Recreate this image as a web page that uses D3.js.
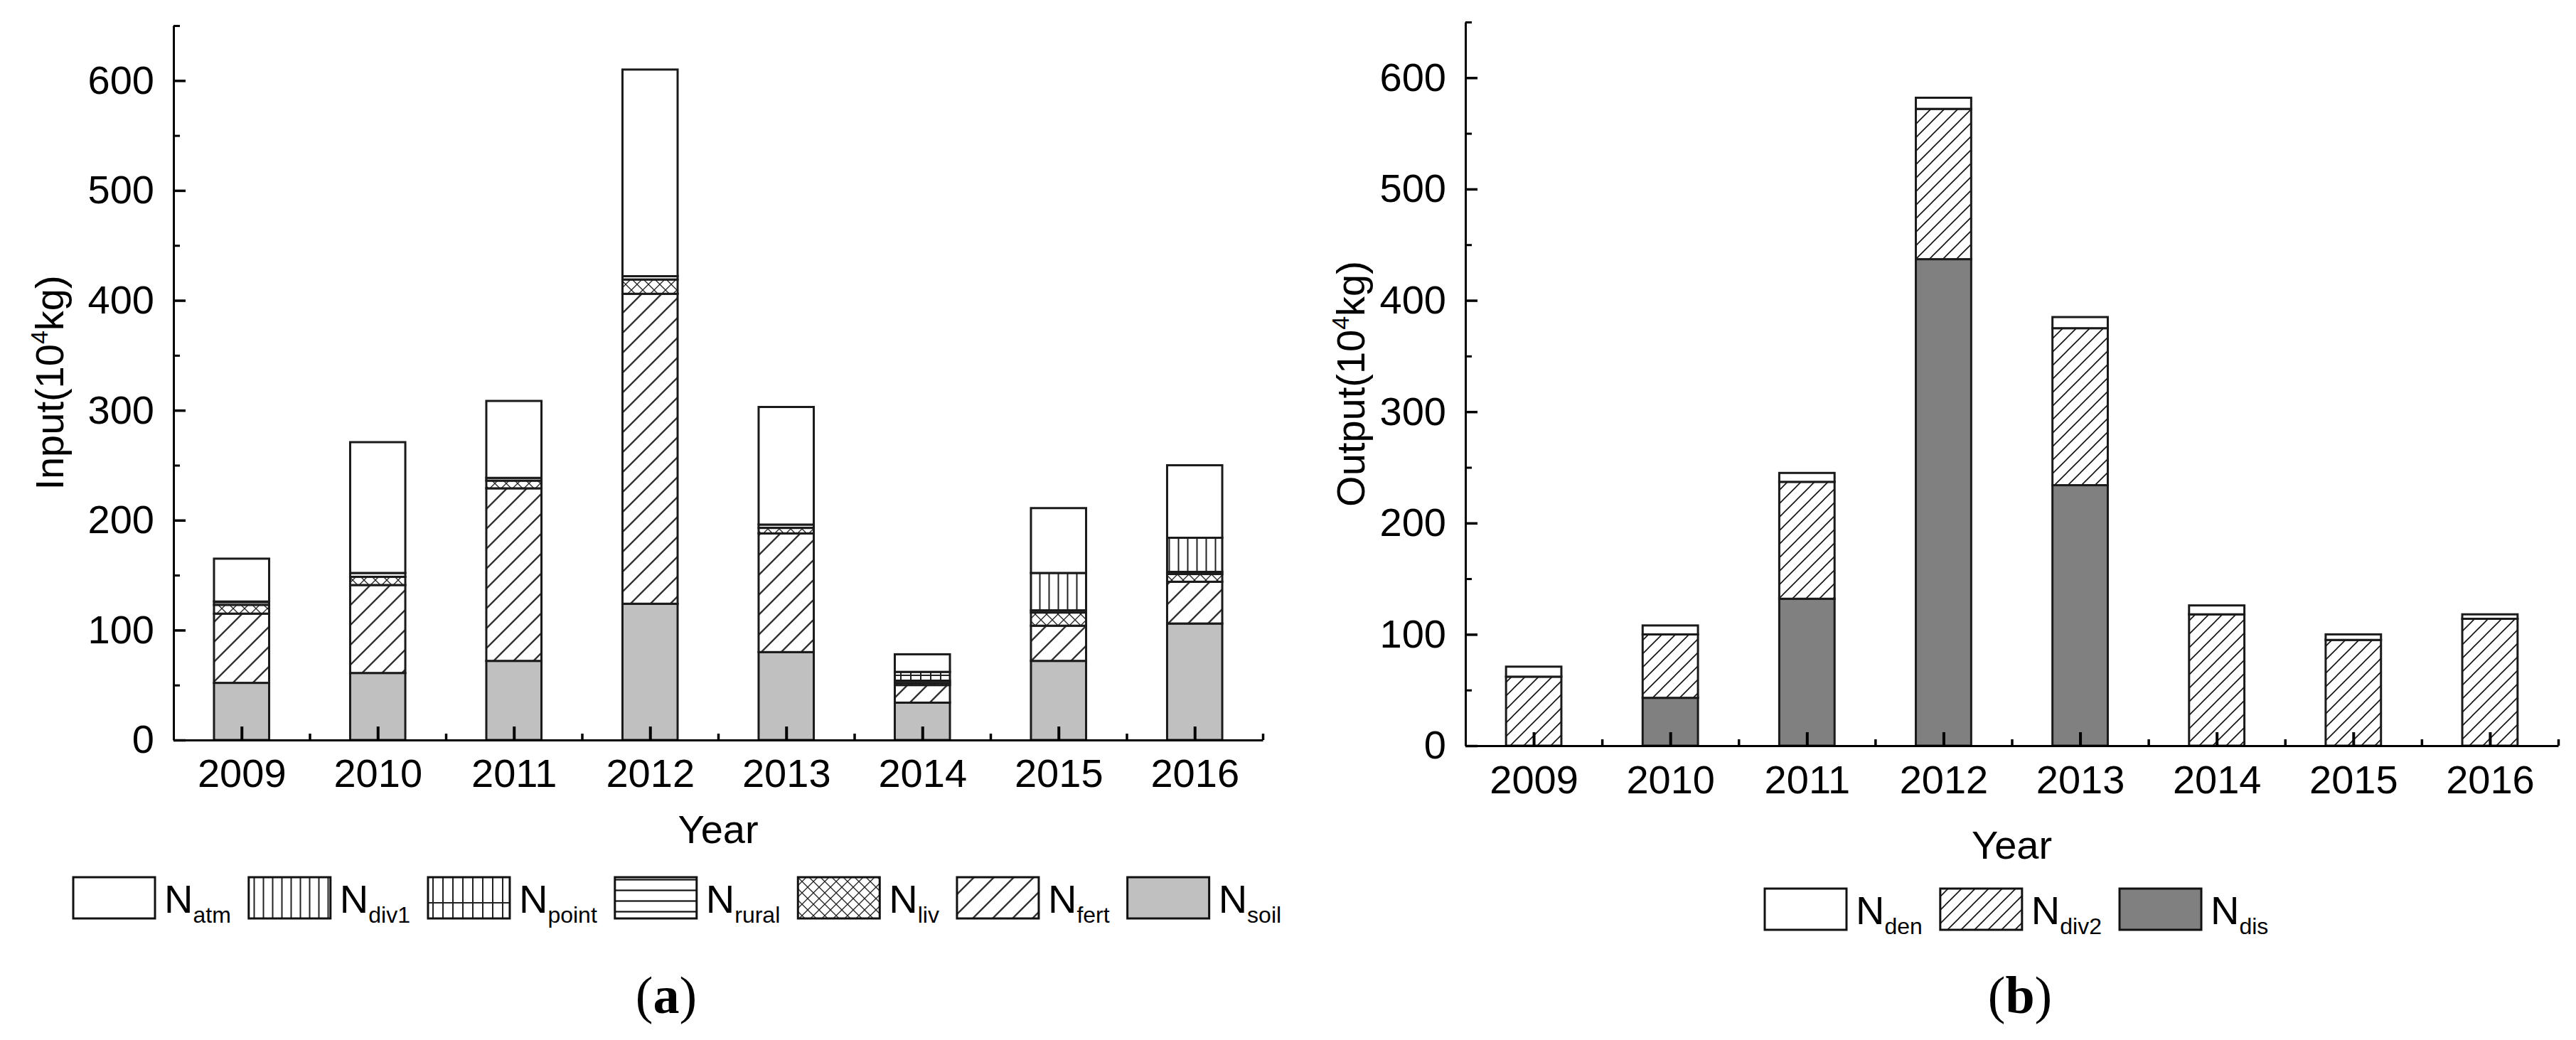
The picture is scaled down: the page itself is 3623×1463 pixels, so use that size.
<!DOCTYPE html>
<html><head><meta charset="utf-8">
<script src="https://cdn.jsdelivr.net/npm/d3@7"></script>
<style>body{margin:0;background:#fff}</style>
</head><body>
<svg id="c" width="3623" height="1463" xmlns="http://www.w3.org/2000/svg"></svg>
<script>
// ---------- data ----------
const years = [2009, 2010, 2011, 2012, 2013, 2014, 2015, 2016];
// Input (10^4 kg)
const N_atm   = [39, 119, 70, 188, 107, 16, 59, 66];
const N_div1  = [0, 0, 0, 0, 0, 0, 34, 31];
const N_point = [0, 0, 0, 0, 0, 8, 0, 0];
const N_rural = [3, 3.5, 2.5, 3, 3, 2, 2, 2];
const N_liv   = [8, 7.5, 7, 13, 5, 2, 12, 7];
const N_fert  = [63, 80, 157, 282, 108, 16, 32, 38];
const N_soil  = [52, 61, 72, 124, 80, 34, 72, 106];
// Output (10^4 kg)
const N_den  = [9, 8, 8, 10, 10, 8, 5, 4];
const N_div2 = [62, 57, 105, 135, 141, 118, 95, 114];
const N_dis  = [0, 43, 132, 437, 234, 0, 0, 0];
// ticks
const yTicks = [0, 100, 200, 300, 400, 500, 600];
const yMinorTicks = [50, 150, 250, 350, 450, 550, 650];
const xMinorTicks = [2009.5, 2010.5, 2011.5, 2012.5, 2013.5, 2014.5, 2015.5, 2016.5];
const inputLegend = ["atm", "div1", "point", "rural", "liv", "fert", "soil"];
const outputLegend = ["den", "div2", "dis"];

// ---------- setup ----------
const svg = d3.select("#c");
const FONT = "'Liberation Sans', Arial, sans-serif";
svg.append("rect").attr("width", 3623).attr("height", 1463).attr("fill", "#fff");
const defs = svg.append("defs");
function pat(id, w, h, d, color, sw) {
  const p = defs.append("pattern").attr("id", id).attr("patternUnits", "userSpaceOnUse")
    .attr("width", w).attr("height", h);
  p.append("rect").attr("width", w).attr("height", h).attr("fill", "#fff");
  p.append("path").attr("d", d).attr("stroke", color).attr("stroke-width", sw).attr("fill", "none");
}
pat("p-fert", 28, 28, "M-7,7L7,-7M0,28L28,0M21,35L35,21", "#333", 2.4);
pat("p-div2", 19, 19, "M-5,5L5,-5M0,19L19,0M14,24L24,14", "#111", 1.6);
pat("p-liv", 16, 16, "M0,0L16,16M16,0L0,16M-4,12L4,20M12,-4L20,4", "#222", 1.3);
pat("p-rural", 10, 15, "M0,7.5H10", "#111", 2.2);
pat("p-div1", 13, 10, "M6.5,0V10", "#222", 2);
pat("p-point", 14, 40, "M7,0V40M0,30H14", "#222", 2);

const fills = {
  atm: "#ffffff", div1: "url(#p-div1)", point: "url(#p-point)", rural: "url(#p-rural)",
  liv: "url(#p-liv)", fert: "url(#p-fert)", soil: "#c0c0c0",
  den: "#ffffff", div2: "url(#p-div2)", dis: "#808080"
};

function buildRows(seriesMap) {
  return years.map((yr, i) => {
    const r = { year: yr };
    Object.keys(seriesMap).forEach(k => r[k] = seriesMap[k][i]);
    return r;
  });
}

function panel(cfg) {
  const x = d3.scaleLinear().domain([2008.5, 2016.5]).range(cfg.xr);
  const y = d3.scaleLinear().domain([0, 650]).range(cfg.yr);
  const step = x(2010) - x(2009);
  const bw = step * 0.405;
  const rows = buildRows(cfg.series);
  const stack = d3.stack().keys(cfg.keys)(rows);
  const g = svg.append("g");
  stack.forEach(layer => {
    g.selectAll(null).data(layer.filter(d => d[1] - d[0] > 0)).enter().append("rect")
      .attr("x", d => x(d.data.year) - bw / 2)
      .attr("width", bw)
      .attr("y", d => y(d[1]))
      .attr("height", d => y(d[0]) - y(d[1]))
      .attr("fill", fills[layer.key])
      .attr("stroke", "#1a1a1a")
      .attr("stroke-width", 3);
  });

  // y axis
  const ya = svg.append("g").attr("transform", `translate(${cfg.xr[0]},0)`)
    .call(d3.axisLeft(y).tickValues(yTicks).tickSizeInner(-17).tickSizeOuter(0)
      .tickPadding(27).tickFormat(d3.format("d")));
  ya.select(".domain").attr("stroke", "#000").attr("stroke-width", 3);
  ya.selectAll(".tick line").attr("stroke", "#000").attr("stroke-width", 3.5);
  ya.selectAll("text").attr("font-family", FONT).attr("font-size", 56).attr("fill", "#000");
  const ym = svg.append("g").attr("transform", `translate(${cfg.xr[0]},0)`)
    .call(d3.axisLeft(y).tickValues(yMinorTicks).tickSizeInner(-9).tickSizeOuter(0).tickFormat(""));
  ym.select(".domain").remove();
  ym.selectAll(".tick line").attr("stroke", "#000").attr("stroke-width", 3);

  // x axis
  const xa = svg.append("g").attr("transform", `translate(0,${cfg.yr[0]})`)
    .call(d3.axisBottom(x).tickValues(years).tickSizeInner(-19).tickSizeOuter(0)
      .tickPadding(cfg.xPad).tickFormat(d3.format("d")));
  xa.select(".domain").attr("stroke", "#000").attr("stroke-width", 3);
  xa.selectAll(".tick line").attr("stroke", "#000").attr("stroke-width", 4);
  xa.selectAll("text").attr("font-family", FONT).attr("font-size", 56).attr("fill", "#000");
  const xm = svg.append("g").attr("transform", `translate(0,${cfg.yr[0]})`)
    .call(d3.axisBottom(x).tickValues(xMinorTicks).tickSizeInner(-9).tickSizeOuter(0).tickFormat(""));
  xm.select(".domain").remove();
  xm.selectAll(".tick line").attr("stroke", "#000").attr("stroke-width", 3.5);

  // axis titles
  const yt = svg.append("text")
    .attr("transform", `translate(${cfg.yTitleX},${(cfg.yr[0] + cfg.yr[1]) / 2}) rotate(-90)`)
    .attr("text-anchor", "middle").attr("font-family", FONT).attr("font-size", 56).attr("fill", "#000");
  yt.append("tspan").text(cfg.yTitle + "(10");
  yt.append("tspan").attr("font-size", 34).attr("dy", -22).text("4");
  yt.append("tspan").attr("font-size", 56).attr("dy", 22).text("kg)");

  svg.append("text").attr("x", (cfg.xr[0] + cfg.xr[1]) / 2).attr("y", cfg.xTitleY)
    .attr("text-anchor", "middle").attr("font-family", FONT).attr("font-size", 56).attr("fill", "#000")
    .text("Year");

  // legend
  let lx = cfg.legX;
  cfg.legend.forEach(k => {
    svg.append("rect").attr("x", lx).attr("y", cfg.legY).attr("width", 115).attr("height", 58)
      .attr("fill", fills[k]).attr("stroke", "#111").attr("stroke-width", 3);
    const t = svg.append("text").attr("x", lx + 115 + 13).attr("y", cfg.legY + 50)
      .attr("font-family", FONT).attr("font-size", 56).attr("fill", "#000");
    t.append("tspan").text("N");
    t.append("tspan").attr("font-size", 32).attr("dy", 14).text(k);
    lx = lx + 115 + 13 + t.node().getComputedTextLength() + 25;
  });

  // panel label
  const pl = svg.append("text").attr("x", cfg.labX).attr("y", 1425).attr("text-anchor", "middle")
    .attr("font-family", "'Liberation Serif', 'Times New Roman', serif").attr("font-size", 74).attr("fill", "#000");
  pl.append("tspan").text("(");
  pl.append("tspan").attr("font-weight", "bold").text(cfg.label);
  pl.append("tspan").text(")");
}

panel({
  xr: [244, 1776], yr: [1041, 36], xPad: 26,
  keys: ["soil", "fert", "liv", "rural", "point", "div1", "atm"],
  series: { soil: N_soil, fert: N_fert, liv: N_liv, rural: N_rural, point: N_point, div1: N_div1, atm: N_atm },
  yTitle: "Input", yTitleX: 89, xTitleY: 1186,
  legend: inputLegend, legX: 103, legY: 1234,
  label: "a", labX: 937
});

panel({
  xr: [2061, 3598], yr: [1049, 31], xPad: 27,
  keys: ["dis", "div2", "den"],
  series: { dis: N_dis, div2: N_div2, den: N_den },
  yTitle: "Output", yTitleX: 1919, xTitleY: 1208,
  legend: outputLegend, legX: 2482, legY: 1250,
  label: "b", labX: 2841
});
</script>
</body></html>
